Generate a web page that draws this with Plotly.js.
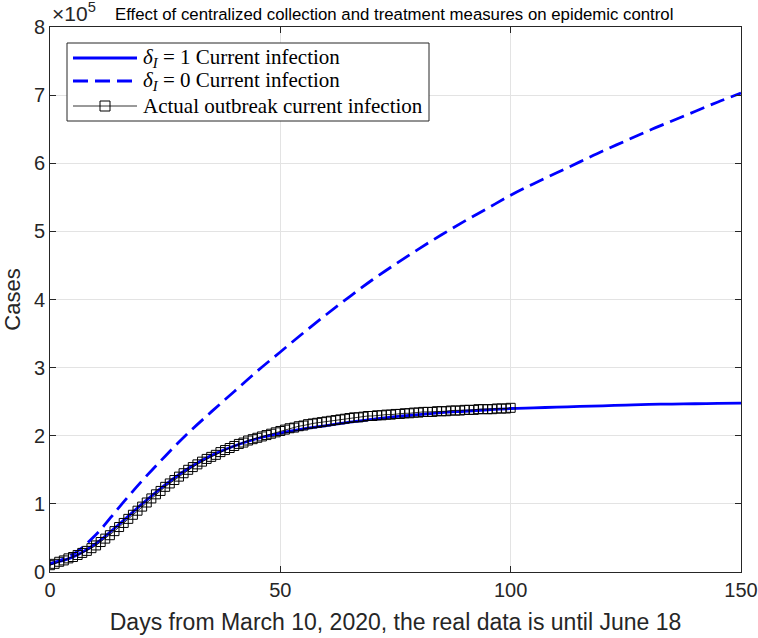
<!DOCTYPE html>
<html>
<head>
<meta charset="utf-8">
<script src="https://cdn.plot.ly/plotly-3.0.1.min.js"></script>
<style>html,body{margin:0;padding:0;background:#fff;}#chart{width:758px;height:638px;}</style>
</head>
<body>
<div id="chart"></div>
<script>
// Values in units of 10^5 cases
var modelDays = [0,5,10,15,20,25,30,35,40,45,50,55,60,65,70,75,80,85,90,95,100,105,110,115,120,125,130,135,140,145,150];
var deltaI1 = [0.12,0.22,0.42,0.70,1.00,1.28,1.52,1.71,1.85,1.96,2.04,2.10,2.15,2.20,2.24,2.28,2.31,2.34,2.36,2.38,2.40,2.41,2.42,2.43,2.44,2.45,2.46,2.465,2.47,2.475,2.48];
var deltaI0 = [0.12,0.26,0.55,0.95,1.34,1.70,2.04,2.35,2.65,2.95,3.23,3.51,3.78,4.04,4.29,4.52,4.74,4.95,5.15,5.34,5.53,5.70,5.86,6.02,6.18,6.33,6.48,6.62,6.76,6.90,7.03];
var actualDays = [];
for (var d = 0; d <= 100; d++) actualDays.push(d);
var actualCases = [0.10,0.12,0.15,0.17,0.20,0.22,0.25,0.28,0.31,0.35,
  0.39,0.44,0.49,0.54,0.60,0.66,0.72,0.78,0.84,0.90,
  0.96,1.02,1.08,1.14,1.19,1.25,1.30,1.35,1.40,1.45,
  1.50,1.54,1.58,1.62,1.66,1.69,1.72,1.76,1.79,1.82,
  1.85,1.88,1.90,1.93,1.95,1.97,1.99,2.01,2.03,2.05,
  2.07,2.09,2.11,2.12,2.14,2.15,2.17,2.18,2.19,2.20,
  2.21,2.22,2.23,2.24,2.25,2.26,2.27,2.27,2.28,2.29,
  2.29,2.30,2.30,2.31,2.31,2.32,2.32,2.33,2.33,2.34,
  2.34,2.35,2.35,2.35,2.36,2.36,2.36,2.37,2.37,2.37,
  2.38,2.38,2.38,2.39,2.39,2.39,2.39,2.40,2.40,2.40,2.41];
var xTicks = [0,50,100,150];
var yTicks = [0,1,2,3,4,5,6,7,8];
var yTickText = ['0','1','2','3','4','5','6','7','8'];
var seriesNames = ['<i>δ<sub>I</sub></i> = 1 Current infection',
                   '<i>δ<sub>I</sub></i> = 0 Current infection',
                   'Actual outbreak current infection'];

// pixel -> paper helpers for the hand-drawn legend box
var M = {l: 50, r: 17, t: 27, b: 66}, W = 758, H = 638;
var PW = W - M.l - M.r, PH = H - M.t - M.b;
function px(x) { return (x - M.l) / PW; }
function py(y) { return (H - M.b - y) / PH; }

var dashPat = '15px,7px';
var traces = [
  {x: modelDays, y: deltaI1, mode: 'lines', line: {color: '#0000ff', width: 2.8, shape: 'spline'}, name: seriesNames[0]},
  {x: modelDays, y: deltaI0, mode: 'lines', line: {color: '#0000ff', width: 2.8, dash: dashPat, shape: 'spline'}, name: seriesNames[1]},
  {x: actualDays, y: actualCases, mode: 'lines+markers', line: {color: '#000', width: 0.8},
   marker: {symbol: 'square-open', size: 9, color: '#000', line: {width: 1, color: '#000'}}, name: seriesNames[2]}
];

var sansFont = 'Liberation Sans, Arial, Helvetica, sans-serif';
var serifFont = 'Liberation Serif, Times New Roman, serif';
var axisCommon = {
  showline: true, linecolor: '#262626', linewidth: 1, mirror: 'ticks',
  ticks: 'inside', ticklen: 6, tickcolor: '#262626',
  showgrid: true, gridcolor: '#e3e3e3', gridwidth: 1, zeroline: false,
  tickfont: {family: sansFont, size: 20, color: '#262626'}
};

var rows = [58, 81, 106];
var shapes = [
  {type: 'rect', xref: 'paper', yref: 'paper', x0: px(67), x1: px(429), y0: py(121), y1: py(43),
   fillcolor: '#fff', line: {color: '#262626', width: 1}, layer: 'above'},
  {type: 'line', xref: 'paper', yref: 'paper', x0: px(73), x1: px(137), y0: py(rows[0]), y1: py(rows[0]),
   line: {color: '#0000ff', width: 2.8}, layer: 'above'},
  {type: 'line', xref: 'paper', yref: 'paper', x0: px(73), x1: px(137), y0: py(rows[1]), y1: py(rows[1]),
   line: {color: '#0000ff', width: 2.8, dash: dashPat}, layer: 'above'},
  {type: 'line', xref: 'paper', yref: 'paper', x0: px(73), x1: px(137), y0: py(rows[2]), y1: py(rows[2]),
   line: {color: '#000', width: 0.8}, layer: 'above'},
  {type: 'rect', xref: 'paper', yref: 'paper', x0: px(100), x1: px(110), y0: py(rows[2] + 5), y1: py(rows[2] - 5),
   fillcolor: 'rgba(255,255,255,0)', line: {color: '#000', width: 1}, layer: 'above'}
];

var annotations = [
  {xref: 'paper', yref: 'paper', x: 0, y: 1, xanchor: 'left', yanchor: 'bottom', yshift: 0,
   text: '×10<sup>5</sup>', showarrow: false, font: {family: sansFont, size: 21, color: '#262626'}},
  {xref: 'paper', yref: 'paper', x: 0.498, y: 1, xanchor: 'center', yanchor: 'bottom', yshift: 1,
   text: 'Effect of centralized collection and treatment measures on epidemic control', showarrow: false,
   font: {family: sansFont, size: 16.8, color: '#000'}}
];
for (var i = 0; i < 3; i++) {
  annotations.push({xref: 'paper', yref: 'paper', x: px(141), y: py(rows[i]), xanchor: 'left', yanchor: 'middle',
    text: seriesNames[i], showarrow: false, font: {family: serifFont, size: 21, color: '#000'}});
}

var layout = {
  width: W, height: H, margin: M,
  paper_bgcolor: '#fff', plot_bgcolor: '#fff',
  showlegend: false,
  xaxis: Object.assign({}, axisCommon, {range: [0, 150], tickvals: xTicks,
    title: {text: 'Days from March 10, 2020, the real data is until June 18', standoff: 13,
            font: {family: sansFont, size: 23, color: '#262626'}}}),
  yaxis: Object.assign({}, axisCommon, {range: [0, 8], tickvals: yTicks, ticktext: yTickText,
    title: {text: 'Cases', standoff: 10, font: {family: sansFont, size: 22, color: '#262626'}}}),
  shapes: shapes,
  annotations: annotations
};

Plotly.newPlot('chart', traces, layout, {displayModeBar: false, staticPlot: true});
</script>
</body>
</html>
